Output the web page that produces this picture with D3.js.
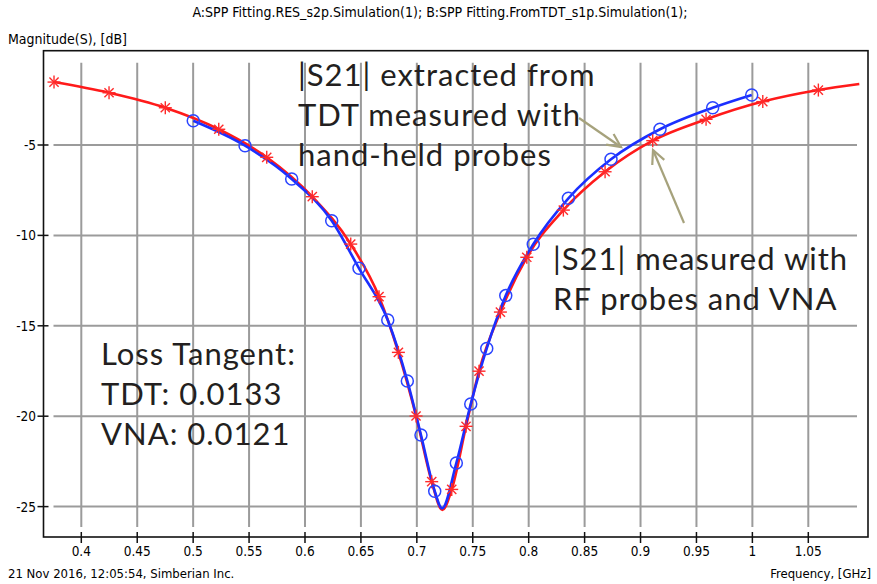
<!DOCTYPE html>
<html>
<head>
<meta charset="utf-8">
<script src="https://cdn.jsdelivr.net/npm/d3@7"></script>
<style>
	body { margin: 0; background: #fff; }
	svg { display: block; }
	.small { font-family: 'Liberation Sans Narrow', 'DejaVu Sans Condensed', 'Liberation Sans', sans-serif; font-size: 13px; fill: #000; }
	.big { font-size: 14px; }
	.note { font-family: Lato, 'Noto Sans', sans-serif; font-size: 31px; letter-spacing: 1px; fill: #231f20; }
</style>
</head>
<body>
<div class="container"></div>
<script>
// red: |S21| measured with RF probes and VNA (asterisk markers)
var redFreq = [0.3756, 0.4248, 0.4751, 0.5229, 0.5658, 0.6065, 0.6409, 0.6662, 0.6835, 0.6993, 0.7133, 0.7312, 0.7440, 0.7556, 0.7747, 0.7983, 0.8310, 0.8683, 0.9109, 0.9586, 1.0093, 1.0590];
var redDb = [-1.52, -2.11, -2.94, -4.13, -5.68, -7.86, -10.48, -13.39, -16.47, -19.99, -23.62, -24.05, -20.56, -17.51, -14.24, -11.21, -8.60, -6.48, -4.76, -3.58, -2.60, -1.96];
// red curve points without a marker (trough, end of sweep)
var redExtraFreq = [0.7228, 1.0956];
var redExtraDb = [-25.19, -1.63];

// blue: |S21| extracted from TDT (circle markers)
var blueFreq = [0.5001, 0.5464, 0.5881, 0.6239, 0.6483, 0.6740, 0.6915, 0.7037, 0.7160, 0.7353, 0.7482, 0.7625, 0.7795, 0.8041, 0.8355, 0.8736, 0.9174, 0.9645, 0.9994];
var blueDb = [-3.66, -5.04, -6.88, -9.19, -11.82, -14.68, -18.05, -21.04, -24.15, -22.59, -19.33, -16.25, -13.33, -10.49, -7.95, -5.79, -4.13, -2.94, -2.23];
var blueExtraFreq = [0.7225];
var blueExtraDb = [-25.1];

var xTicks = [0.4, 0.45, 0.5, 0.55, 0.6, 0.65, 0.7, 0.75, 0.8, 0.85, 0.9, 0.95, 1, 1.05];
var yTicks = [-5, -10, -15, -20, -25];

var title = 'A:SPP Fitting.RES_s2p.Simulation(1); B:SPP Fitting.FromTDT_s1p.Simulation(1);';
var yTitle = 'Magnitude(S), [dB]';
var xTitle = 'Frequency, [GHz]';
var footer = '21 Nov 2016, 12:05:54, Simberian Inc.';
var noteTdt = ['|S21| extracted from', 'TDT measured with', 'hand-held probes'];
var noteVna = ['|S21| measured with', 'RF probes and VNA'];
var noteLoss = ['Loss Tangent:', 'TDT: 0.0133', 'VNA: 0.0121'];

var width = 877,
	height = 584,
	frame = { left: 43.5, top: 50.7, right: 868, bottom: 537 };

var svg = d3.select('.container')
	.append('svg')
	.attr('width', width)
	.attr('height', height);

var x = d3.scaleLinear().domain([0.4, 1.05]).range([81.3, 808.3]);
var y = d3.scaleLinear().domain([0, -25]).range([54.6, 506.6]);

function toPoints(fs, ds) {
	return fs.map(function (f, i) { return { f: f, db: ds[i] }; });
}

function curvePoints(fs, ds, efs, eds) {
	return toPoints(fs, ds).concat(toPoints(efs, eds))
		.sort(function (a, b) { return a.f - b.f; });
}

// grid
svg.append('g')
	.selectAll('line')
	.data(xTicks)
	.enter().append('line')
		.attr('x1', function (d) { return x(d); })
		.attr('x2', function (d) { return x(d); })
		.attr('y1', frame.top + 12)
		.attr('y2', frame.bottom - 10)
		.style('stroke', '#9b9b9b')
		.style('stroke-width', 2);

svg.append('g')
	.selectAll('line')
	.data(yTicks)
	.enter().append('line')
		.attr('x1', frame.left + 10)
		.attr('x2', frame.right - 11)
		.attr('y1', function (d) { return y(d); })
		.attr('y2', function (d) { return y(d); })
		.style('stroke', '#9b9b9b')
		.style('stroke-width', 2);

// frame
svg.append('rect')
	.attr('x', frame.left)
	.attr('y', frame.top)
	.attr('width', frame.right - frame.left)
	.attr('height', frame.bottom - frame.top)
	.style('fill', 'none')
	.style('stroke', '#111')
	.style('stroke-width', 1.6);

// ticks
svg.append('g')
	.selectAll('line')
	.data(xTicks)
	.enter().append('line')
		.attr('x1', function (d) { return x(d); })
		.attr('x2', function (d) { return x(d); })
		.attr('y1', frame.bottom - 5)
		.attr('y2', frame.bottom + 6)
		.style('stroke', '#111')
		.style('stroke-width', 1.5);

svg.append('g')
	.selectAll('line')
	.data(yTicks)
	.enter().append('line')
		.attr('x1', frame.left - 6)
		.attr('x2', frame.left + 5)
		.attr('y1', function (d) { return y(d); })
		.attr('y2', function (d) { return y(d); })
		.style('stroke', '#111')
		.style('stroke-width', 1.5);

svg.append('g')
	.selectAll('text')
	.data(xTicks)
	.enter().append('text')
		.classed('small', true)
		.attr('x', function (d) { return x(d); })
		.attr('y', 556)
		.attr('text-anchor', 'middle')
		.style('font-size', '13.5px')
		.text(function (d) { return d; });

svg.append('g')
	.selectAll('text')
	.data(yTicks)
	.enter().append('text')
		.classed('small', true)
		.attr('x', 36)
		.attr('y', function (d) { return y(d) + 5; })
		.attr('text-anchor', 'end')
		.style('font-size', '13.5px')
		.text(function (d) { return d; });

svg.append('text').classed('small big', true)
	.attr('x', 440).attr('y', 17).attr('text-anchor', 'middle').text(title);
svg.append('text').classed('small big', true)
	.attr('x', 8).attr('y', 44).text(yTitle);
svg.append('text').classed('small', true)
	.attr('x', 8).attr('y', 578).text(footer);
svg.append('text').classed('small', true)
	.attr('x', 871).attr('y', 578).attr('text-anchor', 'end').text(xTitle);

// curves
var line = d3.line()
	.x(function (d) { return x(d.f); })
	.y(function (d) { return y(d.db); })
	.curve(d3.curveMonotoneX);

var plot = svg.append('g');

plot.append('path')
	.datum(curvePoints(redFreq, redDb, redExtraFreq, redExtraDb))
	.attr('d', line)
	.style('fill', 'none')
	.style('stroke', '#ff1a1a')
	.style('stroke-width', 2.6);

plot.append('path')
	.datum(curvePoints(blueFreq, blueDb, blueExtraFreq, blueExtraDb))
	.attr('d', line)
	.style('fill', 'none')
	.style('stroke', '#1b2fff')
	.style('stroke-width', 2.6);

// asterisk markers
var star = plot.append('g')
	.selectAll('g')
	.data(toPoints(redFreq, redDb))
	.enter().append('g')
		.attr('transform', function (d) { return 'translate(' + x(d.f) + ',' + y(d.db) + ')'; });

[0, 45, 90, 135].forEach(function (angle) {
	star.append('line')
		.attr('x1', -6.5).attr('x2', 6.5)
		.attr('y1', 0).attr('y2', 0)
		.attr('transform', 'rotate(' + angle + ')')
		.style('stroke', '#ff2a2a')
		.style('stroke-width', 1.4);
});

plot.append('g')
	.selectAll('circle')
	.data(toPoints(blueFreq, blueDb))
	.enter().append('circle')
		.attr('cx', function (d) { return x(d.f); })
		.attr('cy', function (d) { return y(d.db); })
		.attr('r', 6)
		.style('fill', 'none')
		.style('stroke', '#2a44ff')
		.style('stroke-width', 1.5);

// annotations
function addNote(lines, x0, y0, step) {
	svg.append('g')
		.selectAll('text')
		.data(lines)
		.enter().append('text')
			.classed('note', true)
			.attr('x', x0)
			.attr('y', function (d, i) { return y0 + i * step; })
			.text(function (d) { return d; });
}

addNote(noteTdt, 298, 86, 40);
addNote(noteVna, 553, 270, 40);
addNote(noteLoss, 101, 365, 40);

function arrow(x1, y1, x2, y2) {
	var a = Math.atan2(y2 - y1, x2 - x1),
		len = 15,
		spread = 0.45,
		g = svg.append('g')
			.style('stroke', '#a6a27c')
			.style('stroke-width', 2.2)
			.style('fill', 'none');

	g.append('line').attr('x1', x1).attr('y1', y1).attr('x2', x2).attr('y2', y2);
	g.append('path')
		.attr('d', 'M' + (x2 - len * Math.cos(a - spread)) + ',' + (y2 - len * Math.sin(a - spread)) +
			'L' + x2 + ',' + y2 +
			'L' + (x2 - len * Math.cos(a + spread)) + ',' + (y2 - len * Math.sin(a + spread)));
}

arrow(579, 118, 621, 147);
arrow(684, 223, 653, 150);
</script>
</body>
</html>
